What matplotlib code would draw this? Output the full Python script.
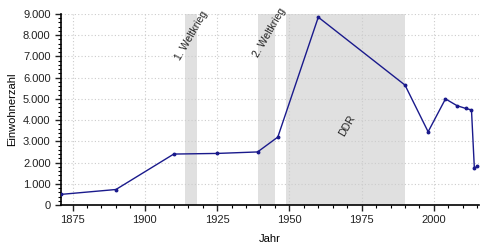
import matplotlib.pyplot as plt
from matplotlib.ticker import MultipleLocator, FuncFormatter

plt.rcParams['font.family'] = ['Liberation Sans', 'DejaVu Sans']

years = [1871, 1890, 1910, 1925, 1939, 1946, 1960, 1990, 1998, 2004, 2008, 2011, 2013, 2014, 2015]
population = [500, 730, 2400, 2430, 2500, 3200, 8850, 5650, 3450, 5000, 4680, 4550, 4480, 1720, 1840]

periods = [(1914, 1918), (1939, 1945), (1949, 1990)]
period_labels = ["1. Weltkrieg", "2. Weltkrieg", "DDR"]
label_pos = [(1916, 8000), (1943, 8100), (1970, 3750)]

fig = plt.figure(figsize=(5, 2.5), dpi=100)
ax = fig.add_axes([0.122, 0.18, 0.836, 0.764])

for (a, b) in periods:
    ax.axvspan(a, b, color="#e0e0e0", lw=0, zorder=0)

for txt, (px, py) in zip(period_labels, label_pos):
    ax.text(px, py, txt, rotation=60, ha="center", va="center", fontsize=7.5, color="#222222")

ax.plot(years, population, color="#1a1a8c", lw=1, marker="o", markersize=1.8, zorder=3)

ax.set_xlim(1871, 2015.6)
ax.set_ylim(0, 9000)
ax.xaxis.set_major_locator(MultipleLocator(25))
ax.xaxis.set_minor_locator(MultipleLocator(5))
ax.yaxis.set_major_locator(MultipleLocator(1000))
ax.yaxis.set_minor_locator(MultipleLocator(200))
ax.yaxis.set_major_formatter(FuncFormatter(lambda v, p: f"{int(v):,}".replace(",", ".")))

ax.grid(True, which="major", color="#cccccc", linestyle=(0, (1, 2)), lw=0.8, zorder=1)
ax.set_axisbelow(True)
for s in ["top", "right"]:
    ax.spines[s].set_visible(False)
ax.spines["left"].set_linewidth(1.2)
ax.spines["bottom"].set_linewidth(1.2)
ax.tick_params(which="major", length=4, width=1, labelsize=8, colors="#222222")
ax.tick_params(which="minor", length=2.5, width=0.8)

ax.set_xlabel("Jahr", fontsize=8, labelpad=6)
ax.set_ylabel("Einwohnerzahl", fontsize=8, labelpad=4)

fig.savefig("out.png", dpi=100)
